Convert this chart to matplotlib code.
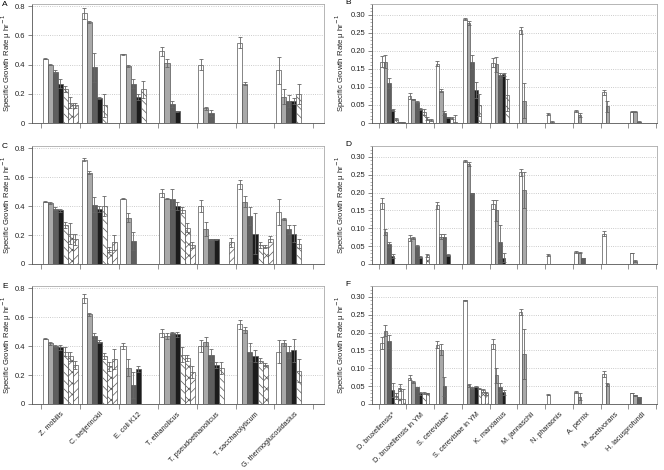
import numpy as np
import matplotlib
matplotlib.use('Agg')
import matplotlib.pyplot as plt
from matplotlib.ticker import MultipleLocator

N = np.nan

# Group labels
left_names = ['Z. mobilis', 'C. beijerinckii', 'E. coli K12', 'T. ethanolicus',
              'T. pseudoethanolicus', 'T. saccharolyticum', 'G. thermoglucosidasius']
right_names = ['D. bruxellensis*', 'D. bruxellensis in YM', 'S. cerevisiae*',
               'S. cerevisiae in YM', 'K. marxianus', 'M. jannaschii', 'N. pharaonis',
               'A. pernix', 'M. acetivorans', 'H. lacusprofundi']

# one row per organism, one value per condition (7 conditions)
A_vals = [[0.44, 0.40, 0.35, 0.27, 0.23, 0.14, 0.12],
          [0.75, 0.69, 0.38, 0.17, 0.12],
          [0.47, 0.39, 0.27, 0.18, 0.23],
          [0.49, 0.41, 0.13, 0.08],
          [0.40, 0.10, 0.07],
          [0.55, 0.27],
          [0.36, 0.18, 0.15, 0.15, 0.20]]
A_err = [[0.005, 0.005, 0.01, 0.03, 0.02, 0.04, 0.02],
         [0.04, 0.005, 0.10, 0.005, 0.08],
         [0.005, 0.005, 0.03, 0.02, 0.06],
         [0.03, 0.03, 0.02, 0.005],
         [0.04, 0.01, 0.02],
         [0.04, 0.01],
         [0.09, 0.05, 0.04, 0.02, 0.07]]

C_vals = [[0.43, 0.42, 0.38, 0.37, 0.27, 0.21, 0.17],
          [0.72, 0.63, 0.41, 0.38, 0.40, 0.10, 0.15],
          [0.45, 0.32, 0.16],
          [0.49, 0.45, 0.45, 0.40, 0.37, 0.25, 0.13],
          [0.40, 0.24, 0.17, 0.17, N, N, 0.15],
          [0.55, 0.43, 0.33, 0.21, 0.13, 0.12, 0.17],
          [0.36, 0.31, 0.24, 0.21, 0.14]]
C_err = [[0.005, 0.005, 0.01, 0.01, 0.02, 0.07, 0.04],
         [0.01, 0.01, 0.05, 0.02, 0.07, 0.02, 0.05],
         [0.005, 0.03, 0.06],
         [0.03, 0.005, 0.07, 0.03, 0.02, 0.03, 0.02],
         [0.04, 0.05, 0.005, 0.005, N, N, 0.03],
         [0.03, 0.04, 0.06, 0.14, 0.02, 0.01, 0.02],
         [0.09, 0.005, 0.03, 0.06, 0.03]]

E_vals = [[0.45, 0.42, 0.40, 0.39, 0.36, 0.33, 0.27],
          [0.73, 0.62, 0.47, 0.43, 0.33, 0.26, 0.31],
          [0.40, 0.25, 0.13, 0.24],
          [0.49, 0.47, 0.49, 0.48, 0.34, 0.32, 0.22],
          [0.40, 0.43, 0.34, 0.27, 0.25],
          [0.55, 0.51, 0.36, 0.33, 0.30, 0.27],
          [0.36, 0.42, 0.36, 0.37, 0.23]]
E_err = [[0.005, 0.01, 0.01, 0.02, 0.03, 0.03, 0.03],
         [0.03, 0.01, 0.02, 0.01, 0.02, 0.03, 0.07],
         [0.02, 0.06, 0.09, 0.02],
         [0.03, 0.02, 0.01, 0.02, 0.05, 0.02, 0.04],
         [0.04, 0.03, 0.04, 0.02, 0.04],
         [0.03, 0.02, 0.06, 0.04, 0.02, 0.01],
         [0.08, 0.02, 0.04, 0.08, 0.08]]

B_vals = [[0.170, 0.170, 0.111, 0.035, 0.012, 0.003, 0.002],
          [0.074, 0.066, 0.059, 0.040, 0.030, 0.012, 0.008],
          [0.165, 0.090, 0.027, 0.016, 0.014, 0.003],
          [0.289, 0.278, 0.170, 0.092, 0.050],
          [0.168, 0.163, 0.133, 0.135, 0.078],
          [0.258, 0.062],
          [0.025, 0.003],
          [0.033, 0.023],
          [0.085, 0.046],
          [0.031, 0.031, 0.004]]
B_err = [[0.015, 0.018, 0.015, 0.003, 0.003, 0.001, 0.001],
         [0.008, 0.002, 0.003, 0.003, 0.008, 0.004, 0.002],
         [0.008, 0.005, 0.006, 0.002, 0.002, 0.018],
         [0.002, 0.005, 0.020, 0.022, 0.030],
         [0.012, 0.020, 0.007, 0.005, 0.045],
         [0.010, 0.048],
         [0.003, 0.002],
         [0.003, 0.005],
         [0.007, 0.015],
         [0.001, 0.001, 0.001]]

D_vals = [[0.170, 0.089, 0.056, 0.023],
          [0.073, 0.072, 0.050, 0.020, N, 0.025],
          [0.165, 0.077, 0.077, 0.025],
          [0.288, 0.280, 0.198],
          [0.167, 0.150, 0.063, 0.018],
          [0.257, 0.207],
          [0.025],
          [0.033, 0.032, 0.017],
          [0.085],
          [0.031, 0.008]]
D_err = [[0.015, 0.008, 0.007, 0.005],
         [0.008, 0.003, 0.002, 0.002, N, 0.004],
         [0.010, 0.008, 0.008, 0.003],
         [0.002, 0.006, 0.002],
         [0.013, 0.030, 0.045, 0.012],
         [0.010, 0.050],
         [0.003],
         [0.003, 0.002, 0.001],
         [0.007],
         [0.001, 0.002]]

F_vals = [[0.172, 0.205, 0.176, 0.040, 0.022, 0.046, 0.015],
          [0.074, 0.062, 0.047, 0.030, 0.030, 0.030],
          [0.166, 0.152, 0.050],
          [0.290, 0.052, 0.045, 0.049, 0.043, 0.038, 0.030],
          [0.168, 0.080, 0.047, 0.033],
          [0.258, 0.140],
          [0.026],
          [0.033, 0.021],
          [0.085, 0.055],
          [0.031, 0.024, 0.019]]
F_err = [[0.017, 0.015, 0.018, 0.020, 0.008, 0.010, 0.028],
         [0.007, 0.003, 0.002, 0.005, 0.003, 0.002],
         [0.010, 0.015, 0.027],
         [0.002, 0.005, 0.003, 0.002, 0.002, 0.003, 0.005],
         [0.015, 0.020, 0.013, 0.007],
         [0.008, 0.070],
         [0.002],
         [0.003, 0.010],
         [0.008, 0.005],
         [0.001, 0.001, 0.002]]

# bar styles for the 7 conditions
face_colors = ['white', '#a9a9a9', '#5e5e5e', '#1c1c1c', 'white', 'white', 'white']
hatches = [None, None, None, None, '\\\\\\\\', 'xxx', '////']

plt.rcParams['hatch.linewidth'] = 0.5
plt.rcParams['font.family'] = 'Liberation Sans'


def pad(rows):
    arr = np.full((len(rows), 7), np.nan)
    for i, r in enumerate(rows):
        arr[i, :len(r)] = r
    return arr


def draw_panel(ax, vals, errs, names, ymax, left_side, show_labels):
    vals = pad(vals)
    errs = pad(errs)
    n = vals.shape[0]
    w = 0.9 / 7
    idx = np.arange(n)
    for j in range(7):
        x = idx + 0.05 + (j + 0.5) * w
        ax.bar(x, vals[:, j], width=w, color=face_colors[j], edgecolor='#555555',
               linewidth=0.5, hatch=hatches[j], zorder=3)
        ax.errorbar(x, vals[:, j], yerr=errs[:, j], fmt='none', ecolor='#666666',
                    elinewidth=0.6, capsize=1.2, capthick=0.6, zorder=4)
    if left_side:
        ax.set_xlim(-0.22, n + 0.27)
        ax.set_ylim(0, ymax)
        ax.set_yticks([0, 0.2, 0.4, 0.6, 0.8], ['0', '0.2', '0.4', '0.6', '0.8'])
    else:
        ax.set_xlim(-0.24, n + 0.03)
        ax.set_ylim(0, ymax)
        ax.set_yticks([0, 0.05, 0.10, 0.15, 0.20, 0.25, 0.30],
                      ['0', '0.05', '0.10', '0.15', '0.20', '0.25', '0.30'])
        ax.yaxis.set_minor_locator(MultipleLocator(0.01))
        ax.tick_params(axis='y', which='minor', length=1.5, width=0.4, color='#777777')
    ax.set_xticks(np.arange(n + 1))
    ax.set_xticklabels([])
    if show_labels:
        ax.set_xticks(idx + 0.5, names, minor=True)
        plt.setp(ax.get_xticklabels(minor=True), rotation=45, ha='right',
                 rotation_mode='anchor', fontsize=5.2, color='#222222')
    ax.tick_params(axis='x', which='minor', length=0, pad=5)
    ax.tick_params(axis='x', which='major', length=3.5, width=0.5, color='#666666')
    ax.tick_params(axis='y', which='major', length=3, width=0.5, color='#555555',
                   labelsize=5.5, labelcolor='#222222', pad=2)
    ax.grid(axis='y', linestyle=':', color='#bbbbbb', linewidth=0.6, zorder=0)
    ax.set_axisbelow(True)
    for side in ['top', 'right']:
        ax.spines[side].set_color('#aaaaaa')
        ax.spines[side].set_linewidth(0.6)
    for side in ['left', 'bottom']:
        ax.spines[side].set_color('#555555')
        ax.spines[side].set_linewidth(0.6)
    ax.set_ylabel('Specific Growth Rate μ hr$^{-1}$', fontsize=5.6, color='#222222')
    if left_side:
        ax.yaxis.set_label_coords(-0.062, 0.5)
    else:
        ax.yaxis.set_label_coords(-0.085, 0.5)


fig = plt.figure(figsize=(6.64, 4.70), dpi=100)

rows = [(4, 123), (146, 264), (286, 404)]
left_x, left_w = 32 / 664, (324 - 32) / 664
right_x, right_w = 372 / 664, (657 - 372) / 664

left_panels = [(A_vals, A_err, 'A'), (C_vals, C_err, 'C'), (E_vals, E_err, 'E')]
right_panels = [(B_vals, B_err, 'B'), (D_vals, D_err, 'D'), (F_vals, F_err, 'F')]

for k, (top, bot) in enumerate(rows):
    b = 1 - bot / 470
    h = (bot - top) / 470
    axl = fig.add_axes([left_x, b, left_w, h])
    draw_panel(axl, left_panels[k][0], left_panels[k][1], left_names, 0.814, True, k == 2)
    fig.text(2 / 664, 1 - (top + 1) / 470, left_panels[k][2], fontsize=6, va='center')
    axr = fig.add_axes([right_x, b, right_w, h])
    draw_panel(axr, right_panels[k][0], right_panels[k][1], right_names, 0.3305, False, k == 2)
    fig.text(345 / 664, 1 - (top - 2) / 470, right_panels[k][2], fontsize=6, va='center')

fig.savefig('out.png', dpi=100)
